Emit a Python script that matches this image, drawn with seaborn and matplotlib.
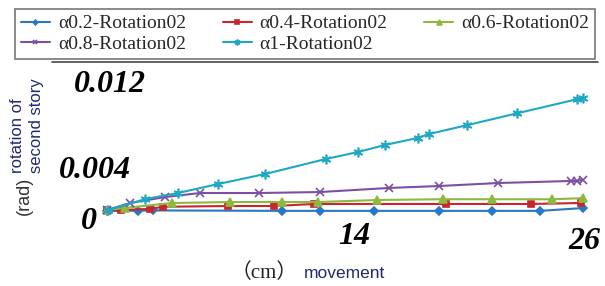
import matplotlib
matplotlib.use("Agg")
import matplotlib.pyplot as plt
import matplotlib.transforms as mtransforms
from matplotlib.lines import Line2D
import seaborn as sns

# series: movement (cm) vs rotation (rad)
x_a02 = [1.1, 2.7, 3.5, 10.2, 12.2, 15.0, 18.4, 21.2, 23.7, 25.9]
y_a02 = [-0.0001, -0.00006, -0.00004, -0.00008, -0.00008, -0.00008, -0.00008, -0.00008, -0.00008, 0.00018]

x_a04 = [1.1, 1.8, 3.35, 4.0, 7.4, 9.8, 11.9, 18.8, 23.2, 25.8]
y_a04 = [0.0, 0.0, 0.0001, 0.0003, 0.00037, 0.00037, 0.00056, 0.00056, 0.00056, 0.00065]

x_a06 = [1.1, 2.05, 4.5, 7.5, 10.2, 12.1, 15.2, 18.6, 21.2, 24.3, 25.9]
y_a06 = [0.0, 0.0002, 0.00065, 0.00074, 0.00074, 0.00074, 0.00093, 0.001, 0.001, 0.001, 0.0011]

x_a08 = [1.1, 2.3, 4.1, 5.95, 9.0, 12.2, 15.8, 18.4, 21.5, 25.3, 25.6, 25.9]
y_a08 = [0.0, 0.00065, 0.0012, 0.00158, 0.00158, 0.00167, 0.00205, 0.00223, 0.00251, 0.0027, 0.0027, 0.0028]

x_a1 = [1.16, 3.1, 4.8, 6.9, 9.35, 12.5, 14.2, 15.6, 17.3, 17.9, 19.9, 22.5, 25.6, 25.9]
y_a1 = [0.0, 0.00102, 0.00158, 0.00242, 0.00335, 0.00474, 0.0054, 0.00605, 0.0067, 0.00707, 0.0079, 0.009, 0.0103, 0.0104]

labels = ["\u03b10.2-Rotation02", "\u03b10.4-Rotation02", "\u03b10.6-Rotation02",
          "\u03b10.8-Rotation02", "\u03b11-Rotation02"]
x_ticks = [14, 26]
y_ticks = [0, 0.004, 0.012]
y_tick_labels = ["0", "0.004", "0.012"]

sns.set_theme(style="white")
plt.rcParams["font.family"] = ["Liberation Serif", "DejaVu Serif"]

fig = plt.figure(figsize=(6.05, 2.86), dpi=100)
ax = fig.add_axes([86 / 605, 1 - 225 / 286, 511 / 605, 160 / 286])

series = [
    (x_a02, y_a02, "#2a78c2", "D", 4),
    (x_a04, y_a04, "#c8252c", "s", 5),
    (x_a06, y_a06, "#8db93e", "^", 6),
    (x_a08, y_a08, "#7b50a3", "x", 6),
    (x_a1, y_a1, "#1ea8c3", (6, 2, 0), 7),
]
for (xs, ys, col, mk, ms), lab in zip(series, labels):
    sns.lineplot(x=xs, y=ys, ax=ax, color=col, marker=mk, markersize=ms,
                 markeredgecolor=col, markeredgewidth=1.2, linewidth=1.5,
                 estimator=None, sort=False, label=lab)

ax.set_xlim(0, 511 / 19.17)
ax.set_ylim(-15 / 10750, 145 / 10750)
for s in ax.spines.values():
    s.set_visible(False)

tick_font = dict(family="Liberation Serif", weight="bold", style="italic", size=23, color="black")
ax.set_xticks(x_ticks)
ax.set_xticklabels([str(t) for t in x_ticks], **tick_font)
ax.set_yticks(y_ticks)
ax.set_yticklabels(y_tick_labels, **tick_font)
ax.tick_params(length=0, pad=0)

# the labels in the picture sit at uneven places
y_shift = [(3, -8), (9, 0), (24, 0)]
for lbl, (dx, dy) in zip(ax.get_yticklabels(), y_shift):
    lbl.set_horizontalalignment("center")
    lbl.set_transform(lbl.get_transform() +
                      mtransforms.ScaledTranslation(dx / 100, dy / 100, fig.dpi_scale_trans))
x_shift = [(0, 3), (0, -2)]
for lbl, (dx, dy) in zip(ax.get_xticklabels(), x_shift):
    lbl.set_transform(lbl.get_transform() +
                      mtransforms.ScaledTranslation(dx / 100, dy / 100, fig.dpi_scale_trans))

ax.set_xlabel("")
ax.set_ylabel("")
ax.get_legend().remove()

# legend fills row by row in the picture
handles, labs = ax.get_legend_handles_labels()
order = [0, 3, 1, 4, 2]
leg = fig.legend([handles[i] for i in order], [labs[i] for i in order], loc="upper left",
                 bbox_to_anchor=(15 / 605, 1 - 57 / 286, 580 / 605, 48 / 286),
                 mode="expand", ncol=3, frameon=True, fancybox=False,
                 edgecolor="#555555", borderaxespad=0, borderpad=0.3,
                 handlelength=1.5, handletextpad=0.4, labelspacing=0.15,
                 prop=dict(family="Liberation Serif", size=14))
leg.get_frame().set_linewidth(1.2)
for h in leg.legend_handles:
    h.set_markersize(h.get_markersize() * 0.6)
    h.set_linewidth(1.5)

# dark rule under the legend box
fig.add_artist(Line2D([52 / 605, 598 / 605], [1 - 62 / 286, 1 - 62 / 286],
                      color="#444444", linewidth=1.2, transform=fig.transFigure))

# axis titles
fig.text(27 / 605, 1 - 173 / 286, "rotation of\nsecond story", rotation=90,
         ha="center", va="bottom", multialignment="left", linespacing=1.3,
         family="Liberation Sans", size=12, color="#1f2a6b")
fig.text(24 / 605, 1 - 196 / 286, "(rad)", rotation=90, ha="center", va="center",
         family="Liberation Sans", size=13, color="#333333")
fig.text(264 / 605, 1 - 273 / 286, "\uff08cm\uff09", ha="center", va="center",
         family=["Liberation Serif", "Noto Sans CJK SC"], size=15, color="#222222")
fig.text(304 / 605, 1 - 273 / 286, "movement", ha="left", va="center",
         family="Liberation Sans", size=12.5, color="#1f2a6b")

fig.savefig("out.png", dpi=100)
